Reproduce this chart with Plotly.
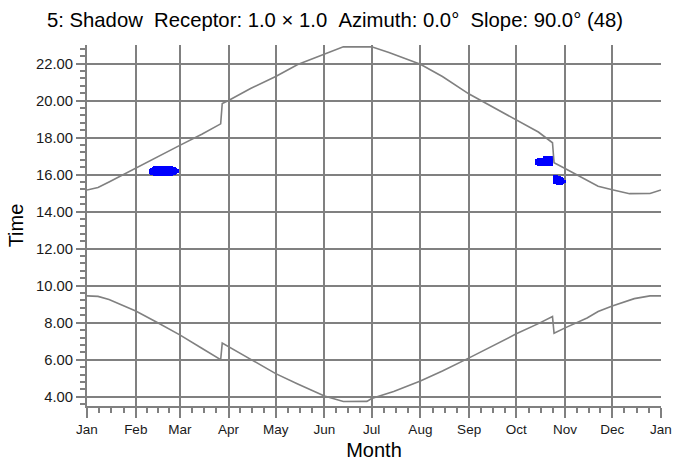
import pandas as pd
import plotly.graph_objects as go

# upper curve (evening limit), hours of day
top_dates = ["2021-01-01", "2021-01-08", "2021-01-15", "2021-02-01", "2021-02-15", "2021-03-01",
             "2021-03-15", "2021-03-27", "2021-03-28", "2021-04-01", "2021-04-15", "2021-05-01",
             "2021-05-15", "2021-06-01", "2021-06-13", "2021-07-01", "2021-07-12", "2021-08-01",
             "2021-08-15", "2021-09-01", "2021-09-15", "2021-10-01", "2021-10-15", "2021-10-24",
             "2021-10-25", "2021-11-01", "2021-11-15", "2021-11-22", "2021-12-01", "2021-12-12",
             "2021-12-25", "2022-01-01"]
top_hours = [15.17, 15.3, 15.6, 16.36, 16.98, 17.58,
             18.18, 18.74, 19.84, 20.0, 20.65, 21.3,
             21.95, 22.5, 22.9, 22.9, 22.6, 21.96,
             21.3, 20.35, 19.7, 18.95, 18.3, 17.72,
             16.64, 16.33, 15.71, 15.37, 15.18, 14.97,
             14.98, 15.17]

# lower curve (morning limit)
bottom_dates = ["2021-01-01", "2021-01-08", "2021-01-15", "2021-02-01", "2021-02-15", "2021-03-01",
                "2021-03-15", "2021-03-27", "2021-03-28", "2021-04-01", "2021-04-15", "2021-05-01",
                "2021-05-15", "2021-06-01", "2021-06-13", "2021-06-28", "2021-07-01", "2021-07-15",
                "2021-08-01", "2021-08-15", "2021-09-01", "2021-09-19", "2021-10-01", "2021-10-15",
                "2021-10-24", "2021-10-25", "2021-11-01", "2021-11-15", "2021-11-22", "2021-12-01",
                "2021-12-15", "2021-12-25", "2022-01-01"]
bottom_hours = [9.45, 9.42, 9.25, 8.63, 8.0, 7.34,
                6.62, 6.0, 6.9, 6.71, 6.03, 5.25,
                4.69, 4.04, 3.74, 3.75, 3.9, 4.28,
                4.85, 5.39, 6.1, 6.89, 7.4, 7.95,
                8.33, 7.43, 7.72, 8.25, 8.6, 8.9,
                9.3, 9.45, 9.45]

# shadow flicker occurrences: one entry per day, start and end hour
flicker_dates = (pd.date_range("2021-02-10", "2021-02-28").strftime("%Y-%m-%d").tolist()
                 + pd.date_range("2021-10-14", "2021-11-01").strftime("%Y-%m-%d").tolist())
flicker_start = [16.05, 16.0, 15.97, 15.95, 15.95, 15.95, 15.95, 15.95, 15.95, 15.95,
                 15.95, 15.95, 15.95, 15.95, 15.95, 15.96, 15.98, 16.02, 16.06,
                 16.5, 16.49, 16.49, 16.49, 16.49, 16.46, 16.45, 16.45, 16.45, 16.45, 16.45,
                 15.5, 15.47, 15.45, 15.44, 15.44, 15.45, 15.47, 15.52]
flicker_end = [16.3, 16.36, 16.42, 16.45, 16.45, 16.45, 16.45, 16.45, 16.45, 16.45,
               16.45, 16.45, 16.45, 16.45, 16.45, 16.43, 16.4, 16.35, 16.3,
               16.85, 16.87, 16.87, 16.87, 16.87, 17.02, 17.03, 17.03, 17.03, 17.03, 17.0,
               15.97, 15.97, 15.97, 15.95, 15.92, 15.88, 15.8, 15.72]

month_ticks = pd.date_range("2021-01-01", "2022-01-01", freq="MS")
month_labels = ["Jan", "Feb", "Mar", "Apr", "May", "Jun", "Jul",
                "Aug", "Sep", "Oct", "Nov", "Dec", "Jan"]

# quarter-month minor ticks
minor_ticks = []
for a, b in zip(month_ticks[:-1], month_ticks[1:]):
    for k in (1, 2, 3):
        minor_ticks.append(a + (b - a) * k / 4)

GRAY = "#808080"

fig = go.Figure()
fig.add_trace(go.Scatter(x=top_dates, y=top_hours, mode="lines",
                         line=dict(color=GRAY, width=1.6), hoverinfo="skip"))
fig.add_trace(go.Scatter(x=bottom_dates, y=bottom_hours, mode="lines",
                         line=dict(color=GRAY, width=1.6), hoverinfo="skip"))
fig.add_trace(go.Bar(x=flicker_dates,
                     y=[e - s for s, e in zip(flicker_start, flicker_end)],
                     base=flicker_start, width=86400000 * 1.05,
                     marker=dict(color="#0000ff", line_width=0)))

fig.update_layout(
    width=674, height=461,
    margin=dict(l=87, r=13, t=45, b=55, autoexpand=False),
    paper_bgcolor="white", plot_bgcolor="white",
    showlegend=False,
    bargap=0,
    font=dict(family="Liberation Sans, Arial, sans-serif", color="#1a1a1a"),
    title=dict(text="5: Shadow\u00a0\u00a0Receptor: 1.0 × 1.0\u00a0\u00a0Azimuth: 0.0°\u00a0\u00a0Slope: 90.0° (48)",
               x=0.497, xanchor="center", y=0.9566, yanchor="middle", yref="container",
               font=dict(size=20.3, color="#000000")),
)

fig.update_xaxes(
    type="date", automargin=False,
    range=["2021-01-01", "2022-01-01"],
    tickmode="array", tickvals=month_ticks, ticktext=month_labels,
    tickfont=dict(size=13.5), ticklabeloverflow="allow",
    showgrid=True, gridcolor=GRAY, gridwidth=2, zeroline=False,
    showline=True, linecolor=GRAY, linewidth=2,
    ticks="outside", ticklen=10, tickwidth=2, tickcolor=GRAY,
    minor=dict(tickmode="array", tickvals=minor_ticks, ticks="outside", ticklen=5,
               tickwidth=1.5, tickcolor=GRAY, showgrid=False),
    title=dict(text="Month", font=dict(size=20, color="#000000"), standoff=7),
)

fig.update_yaxes(
    automargin=False,
    range=[3.5, 23.0],
    tickmode="linear", tick0=0, dtick=2, tickformat=".2f",
    tickfont=dict(size=14.8),
    showgrid=True, gridcolor=GRAY, gridwidth=2, zeroline=False,
    showline=True, linecolor=GRAY, linewidth=2,
    ticks="outside", ticklen=9, tickwidth=2, tickcolor=GRAY,
    minor=dict(dtick=0.4, tick0=0, ticks="outside", ticklen=5,
               tickwidth=1.5, tickcolor=GRAY, showgrid=False),
    title=dict(text="Time", font=dict(size=20, color="#000000"), standoff=7),
)

# drop the default page margin so the figure sits at the window's corner
fig.write_html("out.html", config={"displayModeBar": False},
               post_script="document.body.style.margin='0';")
